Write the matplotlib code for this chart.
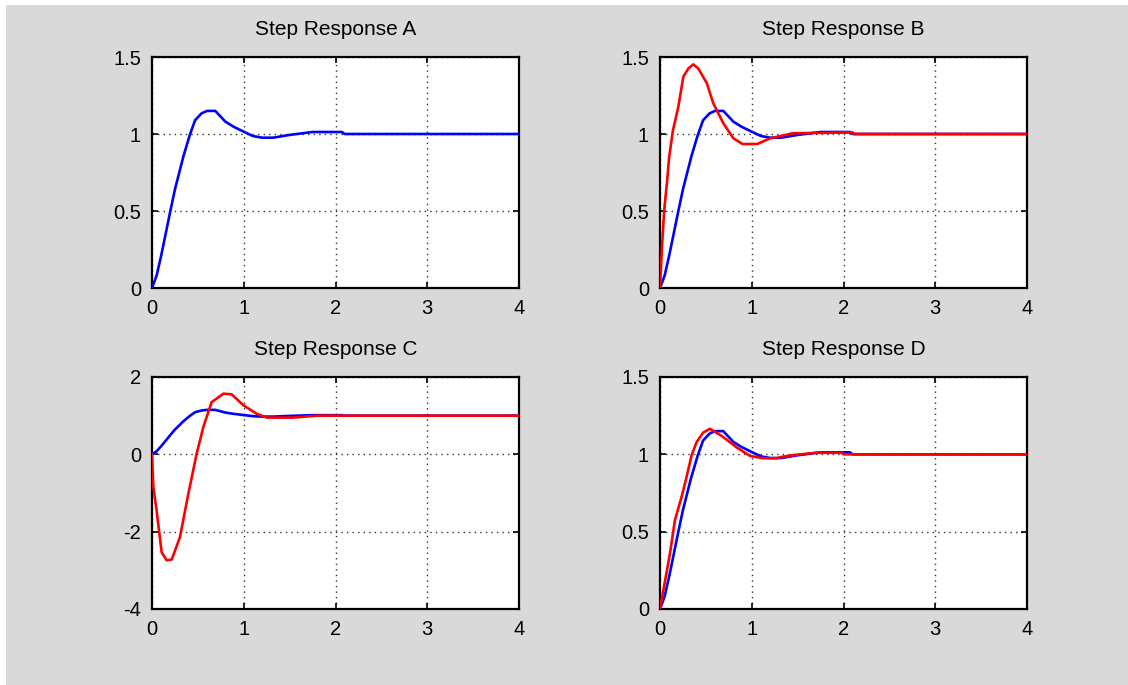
import matplotlib
matplotlib.use("Agg")
import matplotlib.pyplot as plt
from matplotlib.patches import Rectangle

plt.rcParams['font.family'] = ['Liberation Sans', 'DejaVu Sans']

# reference response (blue), same in every panel
t_ref = [0, 0.05, 0.1, 0.2, 0.25, 0.34, 0.41, 0.47, 0.54, 0.6, 0.69, 0.8, 0.89,
         1.0, 1.1, 1.2, 1.32, 1.5, 1.75, 2.07, 2.1, 4.0]
y_ref = [0, 0.08, 0.21, 0.5, 0.64, 0.85, 0.99, 1.09, 1.134, 1.15, 1.15, 1.08, 1.047,
         1.015, 0.987, 0.976, 0.976, 0.994, 1.013, 1.013, 1.0, 1.0]

# panel B (red)
t_b = [0, 0.02, 0.045, 0.075, 0.1, 0.14, 0.2, 0.254, 0.31, 0.363, 0.417, 0.51, 0.58,
       0.69, 0.8, 0.9, 1.06, 1.2, 1.45, 2.1, 2.12, 4.0]
y_b = [0, 0.25, 0.5, 0.68, 0.85, 1.02, 1.177, 1.372, 1.426, 1.452, 1.426, 1.33, 1.2,
       1.07, 0.972, 0.935, 0.935, 0.972, 1.005, 1.01, 1.0, 1.0]

# panel C (red)
t_c = [0, 0.015, 0.05, 0.105, 0.16, 0.215, 0.305, 0.396, 0.487, 0.56, 0.65, 0.78,
       0.87, 0.995, 1.14, 1.25, 1.54, 1.8, 4.0]
y_c = [0, -0.845, -1.45, -2.53, -2.74, -2.72, -2.14, -1.02, 0.02, 0.71, 1.35, 1.57,
       1.55, 1.27, 1.05, 0.95, 0.95, 1.0, 1.0]

# panel D (red)
t_d = [0, 0.109, 0.163, 0.236, 0.29, 0.345, 0.4, 0.47, 0.545, 0.67, 0.835, 0.98,
       1.12, 1.27, 1.34, 1.45, 1.7, 1.98, 2.0, 4.0]
y_d = [0, 0.36, 0.575, 0.726, 0.855, 0.995, 1.08, 1.14, 1.165, 1.12, 1.045, 0.99,
       0.975, 0.975, 0.985, 0.995, 1.01, 1.01, 1.0, 1.0]

titles = ["Step Response A", "Step Response B", "Step Response C", "Step Response D"]
red_series = [None, (t_b, y_b), (t_c, y_c), (t_d, y_d)]
y_ticks = [[0, 0.5, 1, 1.5], [0, 0.5, 1, 1.5], [-4, -2, 0, 2], [0, 0.5, 1, 1.5]]
y_labels = [["0", "0.5", "1", "1.5"], ["0", "0.5", "1", "1.5"],
            ["-4", "-2", "0", "2"], ["0", "0.5", "1", "1.5"]]
x_ticks = [0, 1, 2, 3, 4]

W, H = 1128, 685
fig = plt.figure(figsize=(W / 100, H / 100), dpi=100, facecolor='white')
bg = Rectangle((6 / W, 0), 1, 1 - 5 / H, transform=fig.transFigure,
               facecolor='#d9d9d9', edgecolor='none', zorder=-10)
fig.add_artist(bg)

# axes boxes in pixels: left, top, right, bottom
boxes = [(152, 57, 519, 288), (660, 57, 1027, 288),
         (152, 377, 519, 609), (660, 377, 1027, 609)]

for i, (l, t, r, b) in enumerate(boxes):
    ax = fig.add_axes([l / W, 1 - b / H, (r - l) / W, (b - t) / H])
    ax.set_facecolor('white')
    ax.plot(t_ref, y_ref, color='#0000ff', lw=1.9, zorder=3)
    if red_series[i] is not None:
        ax.plot(red_series[i][0], red_series[i][1], color='#ff0000', lw=1.9, zorder=4)
    ax.set_xlim(0, 4)
    ax.set_ylim(y_ticks[i][0], y_ticks[i][-1])
    ax.set_xticks(x_ticks)
    ax.set_xticklabels([str(v) for v in x_ticks])
    ax.set_yticks(y_ticks[i])
    ax.set_yticklabels(y_labels[i])
    ax.tick_params(direction='in', length=4, width=1.2, labelsize=14.5,
                   top=True, right=True, pad=8)
    ax.grid(True, color='#333333', linestyle=(0, (1, 3)), linewidth=1.0)
    for s in ax.spines.values():
        s.set_linewidth(1.6)
        s.set_color('black')
    ax.set_title(titles[i], fontsize=15, pad=16)

fig.savefig("out.png", dpi=100, facecolor=fig.get_facecolor())
